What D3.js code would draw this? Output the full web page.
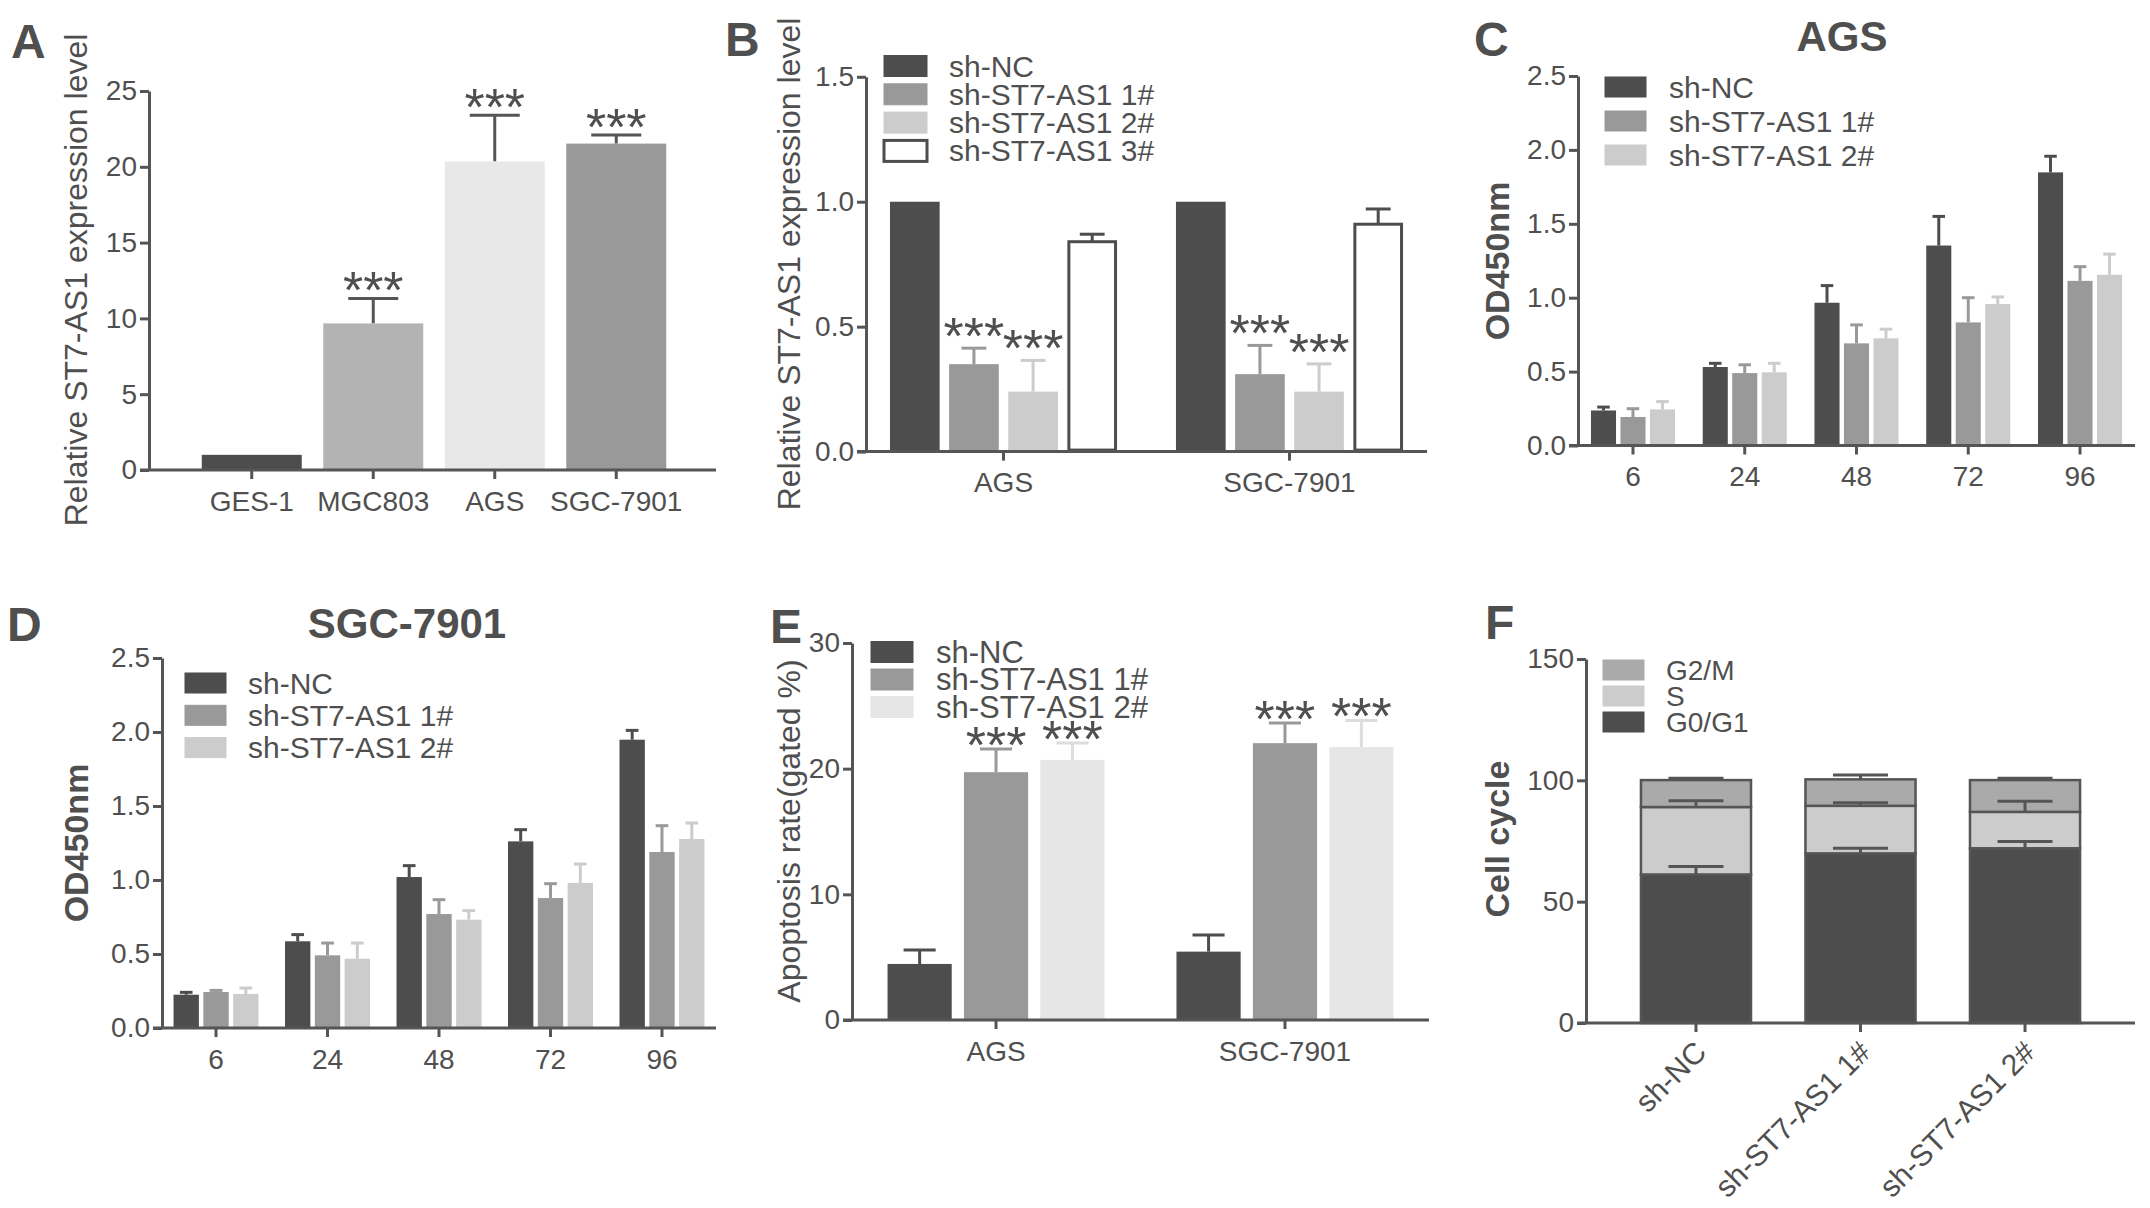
<!DOCTYPE html>
<html>
<head>
<meta charset="utf-8">
<title>ST7-AS1</title>
<style>
  body { margin: 0; background: #fff; }
  svg text { font-family: "Liberation Sans", Arial, sans-serif; fill: #4f4f4f; }
  .axis path, .axis line { stroke: #555; stroke-width: 3; fill: none; }
  .axis text { font-size: 28px; }
  .ytitle { font-size: 32px; }
  .ytitle.bold { font-size: 34px; font-weight: bold; }
  .letter { font-size: 48px; font-weight: bold; }
  .title { font-size: 42px; font-weight: bold; }
  .leg { font-size: 30px; }
  .star { font-size: 52px; }
</style>
</head>
<body>
<script src="https://d3js.org/d3.v7.min.js"></script>
<script>
// ---- data ----
// A
var cellLines = ["GES-1", "MGC803", "AGS", "SGC-7901"];
var exprLevel = [1.0, 9.67, 20.35, 21.53];
var exprSem = [0, 1.65, 3.05, 0.57];
var exprSig = ["", "***", "***", "***"];
var exprTicks = [0, 5, 10, 15, 20, 25];

// B
var cellsB = ["AGS", "SGC-7901"];
var knockSeries = ["sh-NC", "sh-ST7-AS1 1#", "sh-ST7-AS1 2#", "sh-ST7-AS1 3#"];
var knockNC = [1.0, 1.0];
var knock1 = [0.35, 0.31];
var knock2 = [0.24, 0.24];
var knock3 = [0.84, 0.91];
var knockErrNC = [0, 0];
var knockErr1 = [0.064, 0.115];
var knockErr2 = [0.125, 0.111];
var knockErr3 = [0.03, 0.061];
var knockSig = [["", ""], ["***", "***"], ["***", "***"], ["", ""]];
var knockTicks = [0, 0.5, 1.0, 1.5];

// C, D (CCK-8)
var hours = ["6", "24", "48", "72", "96"];
var shSeries = ["sh-NC", "sh-ST7-AS1 1#", "sh-ST7-AS1 2#"];
var agsNC = [0.237, 0.531, 0.966, 1.353, 1.848];
var ags1 = [0.193, 0.49, 0.691, 0.833, 1.114];
var ags2 = [0.244, 0.495, 0.725, 0.957, 1.155];
var agsErrNC = [0.023, 0.025, 0.116, 0.197, 0.109];
var agsErr1 = [0.056, 0.056, 0.125, 0.167, 0.096];
var agsErr2 = [0.053, 0.061, 0.062, 0.048, 0.14];
var sgcNC = [0.225, 0.586, 1.02, 1.261, 1.948];
var sgc1 = [0.243, 0.491, 0.77, 0.878, 1.189];
var sgc2 = [0.23, 0.468, 0.732, 0.98, 1.277];
var sgcErrNC = [0.016, 0.045, 0.077, 0.079, 0.063];
var sgcErr1 = [0.011, 0.083, 0.097, 0.097, 0.178];
var sgcErr2 = [0.04, 0.106, 0.061, 0.128, 0.108];
var odTicks = [0, 0.5, 1.0, 1.5, 2.0, 2.5];

// E
var apoNC = [4.46, 5.44];
var apo1 = [19.72, 22.03];
var apo2 = [20.7, 21.72];
var apoErrNC = [1.11, 1.33];
var apoErr1 = [1.84, 1.6];
var apoErr2 = [1.34, 2.12];
var apoSig = [["", ""], ["***", "***"], ["***", "***"]];
var apoTicks = [0, 10, 20, 30];

// F
var phases = ["G0/G1", "S", "G2/M"];
var phaseG0G1 = [61.2, 69.9, 72.0];
var phaseS = [27.8, 19.6, 15.0];
var phaseG2M = [11.1, 10.9, 13.1];
var phaseErrG0G1 = [3.3, 2.1, 2.8];
var phaseErrS = [2.6, 1.3, 4.4];
var phaseErrG2M = [0.8, 1.8, 0.8];
var cycleTicks = [0, 50, 100, 150];

// ---- drawing ----
var W = 2150, H = 1208;
var svg = d3.select("body").append("svg").attr("width", W).attr("height", H);
var dark = "#4d4d4d";

function leftAxis(xPos, y, ticks, fmt) {
    svg.append("g").attr("class", "axis")
        .attr("transform", "translate(" + xPos + ",0)")
        .call(d3.axisLeft(y).tickValues(ticks).tickFormat(fmt)
            .tickSize(9).tickSizeOuter(0).tickPadding(3));
}

function bottomAxis(yPos, x, xStart, xEnd) {
    var g = svg.append("g").attr("class", "axis")
        .attr("transform", "translate(0," + yPos + ")")
        .call(d3.axisBottom(x).tickSize(9).tickSizeOuter(0).tickPadding(12));
    g.select(".domain").attr("d", "M" + xStart + ",0H" + xEnd);
}

function yTitle(cx, cy, txt, bold) {
    svg.append("text").attr("class", bold ? "ytitle bold" : "ytitle")
        .attr("transform", "translate(" + cx + "," + cy + ") rotate(-90)")
        .attr("text-anchor", "middle")
        .attr("dominant-baseline", "central")
        .text(txt);
}

function letter(x, y, txt) {
    svg.append("text").attr("class", "letter").attr("x", x).attr("y", y).text(txt);
}

function legend(x, cy0, step, w, h, labels, fills, textX, fontSize) {
    var g = svg.append("g");
    labels.forEach(function(lab, i) {
        var cy = cy0 + i * step;
        g.append("rect")
            .attr("x", x).attr("y", cy - h / 2)
            .attr("width", w).attr("height", h)
            .attr("fill", fills[i])
            .attr("stroke", fills[i] == "#ffffff" ? dark : fills[i])
            .attr("stroke-width", fills[i] == "#ffffff" ? 3 : 1);
        g.append("text").attr("class", "leg")
            .attr("x", textX).attr("y", cy)
            .attr("dominant-baseline", "central")
            .style("font-size", fontSize ? fontSize + "px" : null)
            .text(lab);
    });
}

// grouped bars with upward error bars and significance stars
function grouped(x0, x1, y, groups, series, vals, errs, fills, errFills, sigs, starGap) {
    var rows = [];
    series.forEach(function(s, si) {
        groups.forEach(function(gname, gi) {
            rows.push({g: gname, s: s, v: vals[si][gi], e: errs[si][gi],
                fill: fills[si], ec: errFills[si], sig: sigs ? sigs[si][gi] : ""});
        });
    });
    var bw = x1.bandwidth();
    var g = svg.append("g");
    g.selectAll("line.ev").data(rows.filter(function(d) { return d.e > 0; }))
        .enter().append("line")
        .attr("x1", function(d) { return x0(d.g) + x1(d.s) + bw / 2; })
        .attr("x2", function(d) { return x0(d.g) + x1(d.s) + bw / 2; })
        .attr("y1", function(d) { return y(d.v); })
        .attr("y2", function(d) { return y(d.v + d.e); })
        .attr("stroke", function(d) { return d.ec; })
        .attr("stroke-width", 3);
    g.selectAll("line.ec").data(rows.filter(function(d) { return d.e > 0; }))
        .enter().append("line")
        .attr("x1", function(d) { return x0(d.g) + x1(d.s) + bw * 0.25; })
        .attr("x2", function(d) { return x0(d.g) + x1(d.s) + bw * 0.75; })
        .attr("y1", function(d) { return y(d.v + d.e); })
        .attr("y2", function(d) { return y(d.v + d.e); })
        .attr("stroke", function(d) { return d.ec; })
        .attr("stroke-width", 3);
    g.selectAll("rect").data(rows).enter().append("rect")
        .attr("x", function(d) { return x0(d.g) + x1(d.s) + (d.fill == "#ffffff" ? 1.5 : 0); })
        .attr("y", function(d) { return y(d.v); })
        .attr("width", function(d) { return d.fill == "#ffffff" ? bw - 3 : bw; })
        .attr("height", function(d) { return y(0) - y(d.v) - (d.fill == "#ffffff" ? 1.5 : 0); })
        .attr("fill", function(d) { return d.fill; })
        .attr("stroke", function(d) { return d.fill == "#ffffff" ? dark : "none"; })
        .attr("stroke-width", 3);
    g.selectAll("text").data(rows.filter(function(d) { return d.sig; }))
        .enter().append("text").attr("class", "star")
        .attr("text-anchor", "middle")
        .attr("x", function(d) { return x0(d.g) + x1(d.s) + bw / 2; })
        .attr("y", function(d) { return y(d.v + d.e) - starGap + 22; })
        .text(function(d) { return d.sig; });
}

// ---------- A ----------
var yA = d3.scaleLinear().domain([0, 25]).range([470, 91]);
var xA = d3.scaleBand().domain(cellLines).range([191, 677]).paddingInner(0.177).paddingOuter(0.0885);
var colorsA = ["#4d4d4d", "#b3b3b3", "#e8e8e8", "#999999"];
grouped(function() { return 0; }, xA, yA, ["all"], cellLines,
    exprLevel.map(function(v) { return [v]; }), exprSem.map(function(v) { return [v]; }),
    colorsA, cellLines.map(function() { return "#555"; }),
    exprSig.map(function(v) { return [v]; }), 12);
leftAxis(149, yA, exprTicks, d3.format("d"));
bottomAxis(470, xA, 140, 716);
yTitle(76, 280, "Relative ST7-AS1 expression level");
letter(11, 58, "A");

// ---------- B ----------
var yB = d3.scaleLinear().domain([0, 1.5]).range([451.6, 76.8]);
var x0B = d3.scaleBand().domain(cellsB).range([866, 1427]).paddingInner(0.206).paddingOuter(0.0838);
var x1B = d3.scaleBand().domain(knockSeries).range([0, x0B.bandwidth()]).padding(0.16).paddingOuter(0);
var colorsB = ["#4d4d4d", "#999999", "#cccccc", "#ffffff"];
grouped(x0B, x1B, yB, cellsB, knockSeries,
    [knockNC, knock1, knock2, knock3], [knockErrNC, knockErr1, knockErr2, knockErr3],
    colorsB, ["#4d4d4d", "#999999", "#cccccc", "#4d4d4d"], knockSig, 16);
leftAxis(866, yB, knockTicks, d3.format(".1f"));
bottomAxis(451.6, x0B, 857, 1427);
yTitle(789, 264, "Relative ST7-AS1 expression level");
legend(884, 66, 28.3, 43, 21, knockSeries, colorsB, 949);
letter(725, 56, "B");

// ---------- C ----------
var colorsCD = ["#4d4d4d", "#999999", "#cccccc"];
var yC = d3.scaleLinear().domain([0, 2.5]).range([445.5, 76]);
var x0C = d3.scaleBand().domain(hours).range([1578, 2135]).paddingInner(0.248).paddingOuter(0.116);
var x1C = d3.scaleBand().domain(shSeries).range([0, x0C.bandwidth()]).padding(0.15).paddingOuter(0);
grouped(x0C, x1C, yC, hours, shSeries, [agsNC, ags1, ags2], [agsErrNC, agsErr1, agsErr2],
    colorsCD, colorsCD, null, 0);
leftAxis(1578, yC, odTicks, d3.format(".1f"));
bottomAxis(445.5, x0C, 1569, 2135);
yTitle(1497, 261, "OD450nm", true);
legend(1605, 87, 34, 41, 20, shSeries, colorsCD, 1669);
svg.append("text").attr("class", "title").attr("x", 1842).attr("y", 51)
    .attr("text-anchor", "middle").text("AGS");
letter(1474, 56, "C");

// ---------- D ----------
var yD = d3.scaleLinear().domain([0, 2.5]).range([1028, 658]);
var x0D = d3.scaleBand().domain(hours).range([162, 716]).paddingInner(0.238).paddingOuter(0.1035);
var x1D = d3.scaleBand().domain(shSeries).range([0, x0D.bandwidth()]).padding(0.15).paddingOuter(0);
grouped(x0D, x1D, yD, hours, shSeries, [sgcNC, sgc1, sgc2], [sgcErrNC, sgcErr1, sgcErr2],
    colorsCD, colorsCD, null, 0);
leftAxis(162, yD, odTicks, d3.format(".1f"));
bottomAxis(1028, x0D, 153, 716);
yTitle(76, 843, "OD450nm", true);
legend(185, 683, 32.3, 41, 20, shSeries, colorsCD, 248);
svg.append("text").attr("class", "title").attr("x", 407).attr("y", 638)
    .attr("text-anchor", "middle").text("SGC-7901");
letter(7, 641, "D");

// ---------- E ----------
var colorsE = ["#4d4d4d", "#999999", "#e6e6e6"];
var yE = d3.scaleLinear().domain([0, 30]).range([1020, 643]);
var x0E = d3.scaleBand().domain(cellsB).range([852, 1429]).paddingInner(0.249).paddingOuter(0.123);
var x1E = d3.scaleBand().domain(shSeries).range([0, x0E.bandwidth()]).padding(0.16).paddingOuter(0);
grouped(x0E, x1E, yE, cellsB, shSeries, [apoNC, apo1, apo2], [apoErrNC, apoErr1, apoErr2],
    colorsE, ["#4d4d4d", "#999999", "#dddddd"], apoSig, 8);
leftAxis(852, yE, apoTicks, d3.format("d"));
bottomAxis(1020, x0E, 843, 1429);
yTitle(789, 831, "Apoptosis rate(gated %)");
legend(871, 652, 27.5, 42, 21, shSeries, colorsE, 936, 31);
letter(770, 643, "E");

// ---------- F ----------
var yF = d3.scaleLinear().domain([0, 150]).range([1023, 659]);
var xF = d3.scaleBand().domain(shSeries).range([1586, 2135]).paddingInner(0.331).paddingOuter(0.334);
var phaseFill = {"G0/G1": "#4d4d4d", "S": "#cccccc", "G2/M": "#aaaaaa"};
var cycleRows = shSeries.map(function(s, i) {
    return {group: s, "G0/G1": phaseG0G1[i], "S": phaseS[i], "G2/M": phaseG2M[i],
        err: {"G0/G1": phaseErrG0G1[i], "S": phaseErrS[i], "G2/M": phaseErrG2M[i]}};
});
var stacked = d3.stack().keys(phases)(cycleRows);
var gF = svg.append("g");
stacked.forEach(function(layer) {
    gF.selectAll("rect.l" + layer.index).data(layer).enter().append("rect")
        .attr("x", function(d) { return xF(d.data.group); })
        .attr("y", function(d) { return yF(d[1]); })
        .attr("width", xF.bandwidth())
        .attr("height", function(d) { return yF(d[0]) - yF(d[1]); })
        .attr("fill", phaseFill[layer.key])
        .attr("stroke", "#555").attr("stroke-width", 2.5);
});
stacked.forEach(function(layer) {
    layer.forEach(function(d) {
        var cx = xF(d.data.group) + xF.bandwidth() / 2;
        var top = yF(d[1] + d.data.err[layer.key]);
        var hw = xF.bandwidth() * 0.25;
        gF.append("line").attr("x1", cx).attr("x2", cx).attr("y1", yF(d[1])).attr("y2", top)
            .attr("stroke", "#555").attr("stroke-width", 3);
        gF.append("line").attr("x1", cx - hw).attr("x2", cx + hw).attr("y1", top).attr("y2", top)
            .attr("stroke", "#555").attr("stroke-width", 3);
    });
});
leftAxis(1586, yF, cycleTicks, d3.format("d"));
var gxF = svg.append("g").attr("class", "axis")
    .attr("transform", "translate(0,1023)")
    .call(d3.axisBottom(xF).tickSize(9).tickSizeOuter(0).tickFormat(""));
gxF.select(".domain").attr("d", "M1577,0H2135");
svg.append("g").selectAll("text").data(shSeries).enter().append("text")
    .attr("transform", function(d) {
        return "translate(" + (xF(d) + xF.bandwidth() / 2 + 12) + ",1054) rotate(-45)";
    })
    .attr("text-anchor", "end")
    .style("font-size", "30px")
    .text(function(d) { return d; });
yTitle(1497, 839, "Cell cycle", true);
legend(1603, 670, 26, 41, 20, ["G2/M", "S", "G0/G1"],
    [phaseFill["G2/M"], phaseFill["S"], phaseFill["G0/G1"]], 1666, 28);
letter(1485, 639, "F");
</script>
</body>
</html>
